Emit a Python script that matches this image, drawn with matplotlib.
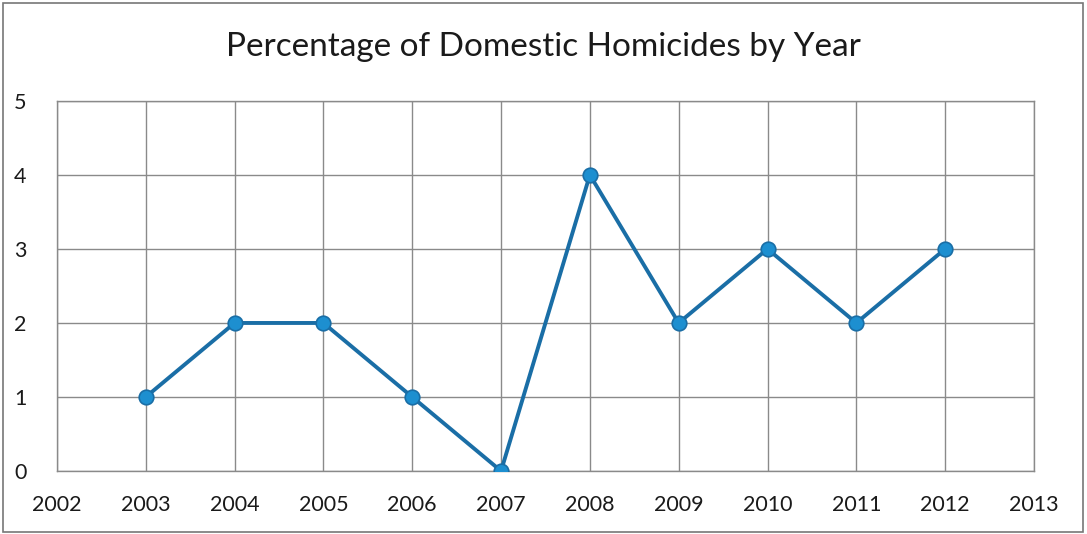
import matplotlib
matplotlib.use('Agg')
import matplotlib.pyplot as plt
from matplotlib.patches import Rectangle

years = [2003, 2004, 2005, 2006, 2007, 2008, 2009, 2010, 2011, 2012]
percent = [1, 2, 2, 1, 0, 4, 2, 3, 2, 3]
x_ticks = list(range(2002, 2014))
y_ticks = [0, 1, 2, 3, 4, 5]

plt.rcParams['font.family'] = ['Lato', 'DejaVu Sans']

fig = plt.figure(figsize=(10.87, 5.34), dpi=100)
ax = fig.add_axes([0.0524, 0.118, 0.8988, 0.693])

ax.plot(years, percent, color='#1a6ea6', linewidth=2.8, marker='o',
        markersize=10.5, markerfacecolor='#1d8fd0', markeredgecolor='#1a6ea6',
        markeredgewidth=1.2, zorder=3)

ax.set_xlim(2002, 2013)
ax.set_ylim(0, 5)
ax.set_xticks(x_ticks)
ax.set_yticks(y_ticks)
ax.grid(True, color='#8a8a8a', linewidth=1)
ax.tick_params(length=0, labelsize=15.5, colors='#1a1a1a')
ax.tick_params(axis='x', pad=17)
ax.tick_params(axis='y', pad=22)
for s in ax.spines.values():
    s.set_color('#8a8a8a')
    s.set_linewidth(1)

fig.text(0.5, 0.912, 'Percentage of Domestic Homicides by Year', ha='center',
         va='center', fontsize=24, color='#1a1a1a')

fig.patches.append(Rectangle((0.003, 0.004), 0.993, 0.991, transform=fig.transFigure,
                             fill=False, edgecolor='#777777', linewidth=1.2))

fig.savefig('out.png', dpi=100)
